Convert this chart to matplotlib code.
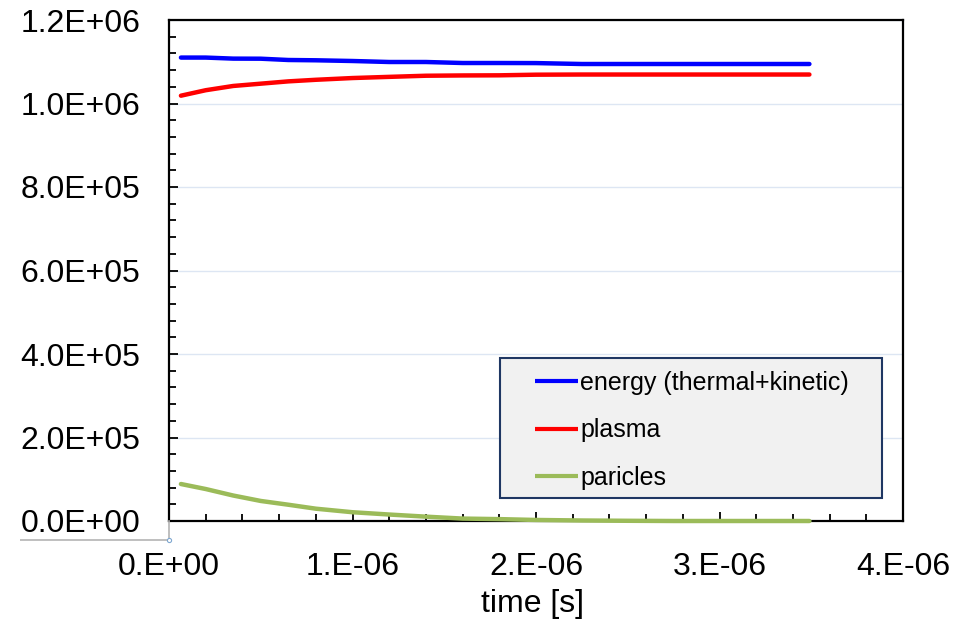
import matplotlib
matplotlib.use("Agg")
import matplotlib.pyplot as plt
from matplotlib.patches import Rectangle
from matplotlib.lines import Line2D
from matplotlib.ticker import MultipleLocator, FixedLocator, FixedFormatter

plt.rcParams['font.family'] = ['Liberation Sans', 'DejaVu Sans']

# ---- data ----
time_us = [0.065, 0.2, 0.35, 0.5, 0.65, 0.8, 1.0, 1.2, 1.4, 1.6, 1.8, 2.0,
           2.25, 2.5, 2.75, 3.0, 3.25, 3.49]
energy = [1.1100, 1.1100, 1.1075, 1.1073, 1.1042, 1.1035, 1.1018, 1.0994,
          1.0994, 1.0970, 1.0970, 1.0968, 1.0946, 1.0946, 1.0946, 1.0946,
          1.0946, 1.0946]  # x1e6
plasma = [1.0187, 1.0318, 1.0420, 1.0475, 1.0530, 1.0568, 1.0610, 1.0638,
          1.0665, 1.0672, 1.0675, 1.0690, 1.0694, 1.0694, 1.0694, 1.0694,
          1.0694, 1.0694]  # x1e6
particles = [88.6, 76.6, 61.0, 48.0, 39.0, 29.5, 21.0, 15.5, 10.4, 5.8, 4.5,
             2.5, 1.2, 0.5, 0.0, 0.0, 0.0, 0.0]  # x1e3
labels = ["energy (thermal+kinetic)", "plasma", "paricles"]
colors = ["#0000ff", "#ff0000", "#9bbb59"]
xtick_vals = [0, 1e-6, 2e-6, 3e-6, 4e-6]
xtick_labels = ["0.E+00", "1.E-06", "2.E-06", "3.E-06", "4.E-06"]
ytick_vals = [0, 2e5, 4e5, 6e5, 8e5, 1.0e6, 1.2e6]
ytick_labels = ["0.0E+00", "2.0E+05", "4.0E+05", "6.0E+05", "8.0E+05",
                "1.0E+06", "1.2E+06"]
xlabel = "time [s]"

W, H = 957, 621
fig = plt.figure(figsize=(W / 100, H / 100), dpi=100)
ax = fig.add_axes([169 / W, 1 - 521 / H, (903 - 169) / W, (521 - 20) / H])

t = [v * 1e-6 for v in time_us]
series = [[v * 1e6 for v in energy], [v * 1e6 for v in plasma],
          [v * 1e3 for v in particles]]
handles = []
for ys, c, lab in zip(series, colors, labels):
    ln, = ax.plot(t, ys, color=c, lw=3.2, label=lab, zorder=3, clip_on=False,
                  solid_capstyle='round', solid_joinstyle='round')
    handles.append(ln)

ax.set_xlim(0, 4e-6)
ax.set_ylim(0, 1.2e6)
ax.xaxis.set_major_locator(FixedLocator(xtick_vals))
ax.xaxis.set_major_formatter(FixedFormatter(xtick_labels))
ax.yaxis.set_major_locator(FixedLocator(ytick_vals))
ax.yaxis.set_major_formatter(FixedFormatter(ytick_labels))
ax.xaxis.set_minor_locator(MultipleLocator(0.2e-6))
ax.yaxis.set_minor_locator(MultipleLocator(4e4))

ax.tick_params(which='both', direction='in', color='black', width=1.3)
ax.tick_params(which='major', length=6.5, labelsize=23)
ax.tick_params(which='minor', length=5)
ax.tick_params(axis='y', which='major', pad=20.5)
ax.tick_params(axis='x', which='major', pad=22)

for s in ax.spines.values():
    s.set_linewidth(1.6)
    s.set_color('black')

ax.yaxis.grid(True, which='major', color='#dde6f3', lw=1)
ax.set_axisbelow(True)

ax.set_xlabel(xlabel, fontsize=23)
ax.xaxis.set_label_coords(0.495, -0.135)

# legend frame and legend
fig.add_artist(Rectangle((500 / W, 1 - 498 / H), (882 - 500) / W, (498 - 358) / H,
                         transform=fig.transFigure, facecolor='#f1f1f1',
                         edgecolor='#1f3763', lw=1.5, zorder=4))
leg = fig.legend(handles=handles, loc='upper left',
                 bbox_to_anchor=(535 / W, 1 - 371 / H),
                 bbox_transform=fig.transFigure, frameon=False, fontsize=18,
                 borderpad=0, borderaxespad=0, handlelength=1.7,
                 handletextpad=0.12, labelspacing=0.94)
leg.set_zorder(5)
for lh in leg.get_lines():
    lh.set_linewidth(3)
    lh.set_solid_capstyle('butt')

# clipped left margin and grey outer frame marks
fig.add_artist(Rectangle((0, 0), 20 / W, 1, transform=fig.transFigure,
                         facecolor='white', edgecolor='none', zorder=10))
fig.add_artist(Line2D([20 / W, 169 / W], [1 - 540 / H, 1 - 540 / H],
                      transform=fig.transFigure, color='#b4b4b4', lw=1.2))
fig.add_artist(Line2D([169 / W, 169 / W], [1 - 521 / H, 1 - 540 / H],
                      transform=fig.transFigure, color='#b4b4b4', lw=1.2))
fig.add_artist(Line2D([169 / W], [1 - 540 / H], transform=fig.transFigure,
                      marker='o', ms=3, mfc='white', mec='#7fa7d0', mew=0.8))

fig.savefig("out.png", dpi=100)
